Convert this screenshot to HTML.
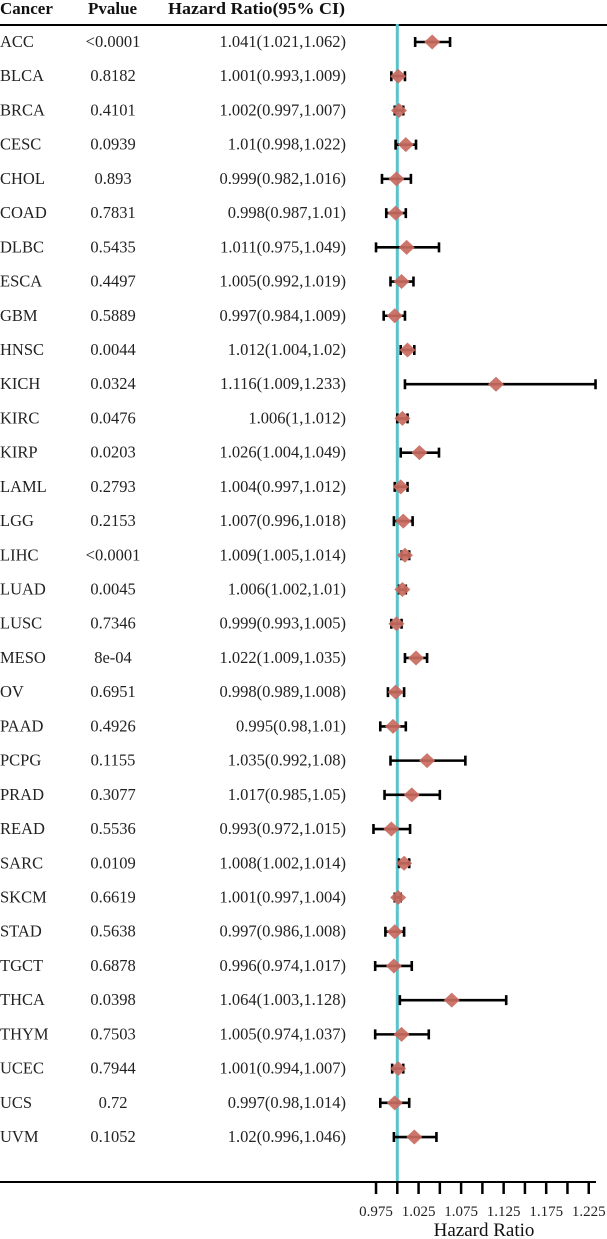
<!DOCTYPE html>
<html><head><meta charset="utf-8">
<style>
html,body{margin:0;padding:0;background:#fff;}
svg{display:block;font-family:"Liberation Serif",serif;}
</style></head><body>
<svg id="chart" width="607" height="1239" viewBox="0 0 607 1239">
<g id="hdr" font-weight="bold" font-size="17" fill="#111">
<text x="0" y="14">Cancer</text>
<text x="88" y="14">Pvalue</text>
<text x="168" y="14" textLength="177" lengthAdjust="spacingAndGlyphs">Hazard Ratio(95% CI)</text>
</g>
<line x1="0" y1="25" x2="607" y2="25" stroke="#000" stroke-width="2"/>
<line x1="397.3" y1="24" x2="397.3" y2="1182" stroke="#5bc3cc" stroke-width="3"/>
<g id="rows"></g>
<line x1="0" y1="1182" x2="596" y2="1182" stroke="#000" stroke-width="2"/>
<g id="axis"></g>
<text x="484" y="1236" font-size="19" text-anchor="middle" fill="#111">Hazard Ratio</text>
</svg>
<script>
const cancers=["ACC","BLCA","BRCA","CESC","CHOL","COAD","DLBC","ESCA","GBM","HNSC","KICH","KIRC","KIRP","LAML","LGG","LIHC","LUAD","LUSC","MESO","OV","PAAD","PCPG","PRAD","READ","SARC","SKCM","STAD","TGCT","THCA","THYM","UCEC","UCS","UVM"];
const pvalues=["<0.0001","0.8182","0.4101","0.0939","0.893","0.7831","0.5435","0.4497","0.5889","0.0044","0.0324","0.0476","0.0203","0.2793","0.2153","<0.0001","0.0045","0.7346","8e-04","0.6951","0.4926","0.1155","0.3077","0.5536","0.0109","0.6619","0.5638","0.6878","0.0398","0.7503","0.7944","0.72","0.1052"];
const hr=[1.041,1.001,1.002,1.01,0.999,0.998,1.011,1.005,0.997,1.012,1.116,1.006,1.026,1.004,1.007,1.009,1.006,0.999,1.022,0.998,0.995,1.035,1.017,0.993,1.008,1.001,0.997,0.996,1.064,1.005,1.001,0.997,1.02];
const lower=[1.021,0.993,0.997,0.998,0.982,0.987,0.975,0.992,0.984,1.004,1.009,1,1.004,0.997,0.996,1.005,1.002,0.993,1.009,0.989,0.98,0.992,0.985,0.972,1.002,0.997,0.986,0.974,1.003,0.974,0.994,0.98,0.996];
const upper=[1.062,1.009,1.007,1.022,1.016,1.01,1.049,1.019,1.009,1.02,1.233,1.012,1.049,1.012,1.018,1.014,1.01,1.005,1.035,1.008,1.01,1.08,1.05,1.015,1.014,1.004,1.008,1.017,1.128,1.037,1.007,1.014,1.046];
const hrText=["1.041(1.021,1.062)","1.001(0.993,1.009)","1.002(0.997,1.007)","1.01(0.998,1.022)","0.999(0.982,1.016)","0.998(0.987,1.01)","1.011(0.975,1.049)","1.005(0.992,1.019)","0.997(0.984,1.009)","1.012(1.004,1.02)","1.116(1.009,1.233)","1.006(1,1.012)","1.026(1.004,1.049)","1.004(0.997,1.012)","1.007(0.996,1.018)","1.009(1.005,1.014)","1.006(1.002,1.01)","0.999(0.993,1.005)","1.022(1.009,1.035)","0.998(0.989,1.008)","0.995(0.98,1.01)","1.035(0.992,1.08)","1.017(0.985,1.05)","0.993(0.972,1.015)","1.008(1.002,1.014)","1.001(0.997,1.004)","0.997(0.986,1.008)","0.996(0.974,1.017)","1.064(1.003,1.128)","1.005(0.974,1.037)","1.001(0.994,1.007)","0.997(0.98,1.014)","1.02(0.996,1.046)"];
const ticks=[0.975,1,1.025,1.05,1.075,1.1,1.125,1.15,1.175,1.2,1.225];
const tickLabels=["0.975","1.025","1.075","1.125","1.175","1.225"];
const NS="http://www.w3.org/2000/svg";
const xs=v=>397.3+(v-1)/0.025*21.27;
const ys=i=>42+i*34.22;
function mk(t,a,p){const e=document.createElementNS(NS,t);for(const k in a)e.setAttribute(k,a[k]);p.appendChild(e);return e;}
const rows=document.getElementById('rows');
cancers.forEach((c,i)=>{
  const y=ys(i);
  const g=mk('g',{},rows);
  
  
  const t1=mk('text',{x:0,y:y+5,'font-size':16.5,fill:'#222'},g);t1.textContent=c;
  
  
  const t2=mk('text',{x:113,y:y+5,'font-size':16.5,fill:'#222','text-anchor':'middle'},g);t2.textContent=pvalues[i];
  
  
  const t3=mk('text',{x:346,y:y+5,'font-size':16.5,fill:'#222','text-anchor':'end'},g);t3.textContent=hrText[i];
  
  
  const x1=xs(lower[i]),x2=xs(upper[i]);
  const ci=mk('path',{d:`M${x1},${y-5}V${y+5}M${x1},${y}H${x2}M${x2},${y-5}V${y+5}`,stroke:'#000','stroke-width':2.6,fill:'none'},g);
  
  
  const cx=xs(hr[i]);
  const d=mk('path',{d:`M${cx-8},${y}L${cx},${y-7.5}L${cx+8},${y}L${cx},${y+7.5}Z`,fill:'#c96a5f','fill-opacity':0.92},g);
  
  
});
const ax=document.getElementById('axis');
ticks.forEach(v=>{
  const l=mk('line',{x1:xs(v),x2:xs(v),y1:1182,y2:1194,stroke:'#000','stroke-width':2.5},ax);
  
  
});
tickLabels.forEach(s=>{
  const t=mk('text',{x:xs(parseFloat(s)),y:1216,'font-size':15,'text-anchor':'middle',fill:'#222'},ax);t.textContent=s;
  
  
});
</script>
</body></html>
